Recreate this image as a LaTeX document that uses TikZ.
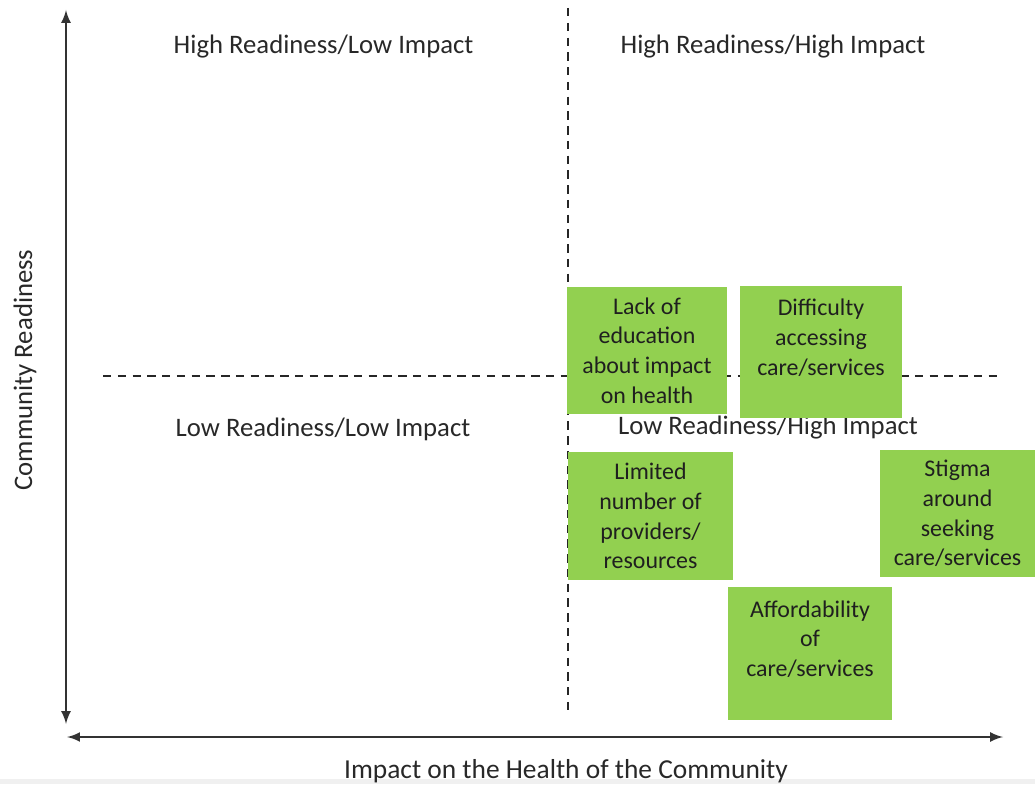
\documentclass[tikz,border=0pt]{standalone}
\usepackage{fontspec}
\setmainfont{Carlito}
\usepackage{tikz}
\usetikzlibrary{calc}

\definecolor{boxgreen}{RGB}{146,208,80}
\definecolor{labelgray}{RGB}{40,40,40}

\tikzset{
  quadlabel/.style={text=labelgray,font=\fontsize{19}{23}\selectfont,inner sep=0pt},
  greenbox/.style={fill=boxgreen,text=black!88,align=center,inner sep=0pt,
    font=\fontsize{17}{21.2}\selectfont},
  divider/.style={line width=0.9pt,dash pattern=on 6pt off 4.5pt,black!85},
  axis/.style={line width=2.1pt,black!80,<->,>=latex}
}

\begin{document}
\begin{tikzpicture}
  \useasboundingbox (0,0) rectangle (25.875,19.6);
  \fill[black!6] (0,0) rectangle (25.875,0.12);

  % Axes
  \coordinate (ytop) at (1.65,19.35);
  \coordinate (ybot) at (1.65,1.5);
  \coordinate (xleft) at (1.68,1.175);
  \coordinate (xright) at (25.075,1.175);
  \draw [axis] (ybot) to (ytop);
  \draw [axis] (xleft) to (xright);

  \node (ylabel) [quadlabel,rotate=90] at (0.625,10.35) {Community Readiness};
  \node (xlabel) [quadlabel,font=\fontsize{19.5}{23}\selectfont] at (14.15,0.32)
    {Impact on the Health of the Community};

  % Dividers
  \coordinate (vtop) at (14.2,19.4);
  \coordinate (vbot) at (14.2,1.8);
  \coordinate (hleft) at (2.575,10.2);
  \coordinate (hright) at (25.0,10.2);
  \draw [divider] (vtop) to (vbot);
  \draw [divider] (hleft) to (hright);

  % Quadrant labels
  \node (HRLI) [quadlabel] at (8.09,18.425) {High Readiness/Low Impact};
  \node (HRHI) [quadlabel] at (19.325,18.425) {High Readiness/High Impact};
  \node (LRLI) [quadlabel] at (8.075,8.875) {Low Readiness/Low Impact};
  \node (LRHI) [quadlabel] at (19.2,8.9) {Low Readiness/High Impact};

  % Barriers
  \node (lack) [greenbox,minimum width=4cm,minimum height=3.175cm] at (16.175,10.8375)
    {Lack of\\education\\about impact\\on health};
  \node (difficulty) [greenbox,minimum width=4.05cm,minimum height=3.3cm] at (20.525,10.8)
    {Difficulty\\accessing\\care/services\\\mbox{}};
  \node (limited) [greenbox,minimum width=4.125cm,minimum height=3.2cm] at (16.2625,6.7)
    {Limited\\number of\\providers/\\resources};
  \node (stigma) [greenbox,minimum width=3.875cm,minimum height=3.175cm] at (23.9375,6.7625)
    {Stigma\\around\\seeking\\care/services};
  \node (afford) [greenbox,minimum width=4.1cm,minimum height=3.325cm] at (20.25,3.2625)
    {Affordability\\of\\care/services\\\mbox{}};
\end{tikzpicture}
\end{document}
